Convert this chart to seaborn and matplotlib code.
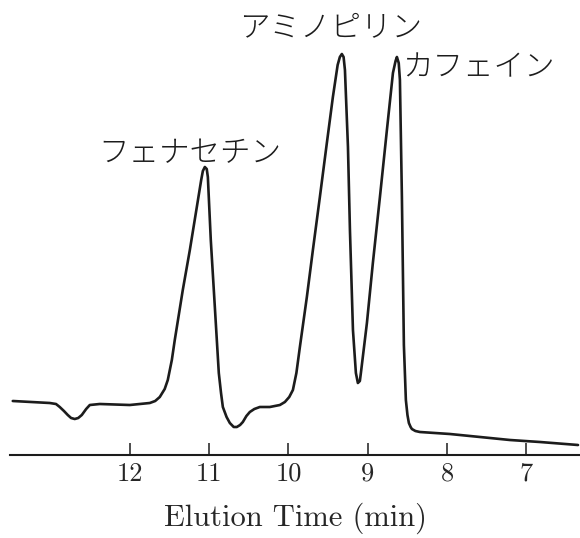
import matplotlib
matplotlib.use("Agg")
import matplotlib.pyplot as plt
import seaborn as sns
import pandas as pd

# chromatogram (time in min, detector response in a.u.)
elution_time = [13.475, 13.009, 12.93, 12.883, 12.83, 12.782, 12.74, 12.694, 12.65,
                12.605, 12.55, 12.504, 12.378, 12.0, 11.748, 11.68, 11.622, 11.56,
                11.521, 11.47, 11.433, 11.332, 11.243, 11.155, 11.10, 11.079, 11.054,
                11.03, 11.016, 10.979, 10.928, 10.878, 10.85, 10.827, 10.78, 10.739,
                10.69, 10.651, 10.61, 10.575, 10.53, 10.487, 10.43, 10.361, 10.235,
                10.108, 10.045, 9.99, 9.944, 9.90, 9.856, 9.768, 9.692, 9.604, 9.516,
                9.440, 9.38, 9.352, 9.327, 9.305, 9.288, 9.250, 9.225, 9.187, 9.150,
                9.125, 9.10, 9.087, 9.011, 8.936, 8.847, 8.759, 8.683, 8.65, 8.633,
                8.61, 8.595, 8.570, 8.545, 8.52, 8.50, 8.482, 8.46, 8.444, 8.40,
                8.343, 7.965, 7.586, 7.208, 6.830, 6.350]
response = [54, 52, 51, 48, 44, 40, 37, 36, 37,
            40, 46, 50, 51, 50, 52, 54, 58, 66,
            75, 95, 115, 165, 205, 248, 275, 284, 288,
            286, 278, 215, 148, 82, 62, 48, 38, 32,
            28, 28, 30, 33, 39, 43, 46, 48, 48,
            50, 53, 58, 65, 82, 108, 158, 205, 258, 312,
            358, 390, 398, 401, 398, 385, 308, 225, 125, 82,
            72, 74, 82, 132, 192, 258, 325, 382, 394, 398,
            392, 375, 258, 110, 55, 40, 32, 28, 26, 24,
            23, 21, 18, 15, 13, 10]

peak_names = ["フェナセチン", "アミノピリン", "カフェイン"]
peak_label_time = [11.24, 9.47, 7.60]
peak_label_resp = [302, 428, 388]

ticks = [12, 11, 10, 9, 8, 7]

df = pd.DataFrame({"time": elution_time, "resp": response})

sns.set_style("white")
plt.rcParams["font.family"] = ["cmr10", "DejaVu Serif"]

fig = plt.figure(figsize=(5.8, 5.38), dpi=100)
ax = fig.add_axes([10 / 580, 83 / 538, 570 / 580, 455 / 538])

sns.lineplot(data=df, x="time", y="resp", sort=False, estimator=None,
             color="#1c1c1c", lw=1.9, ax=ax)
ax.lines[0].set_solid_joinstyle("round")

ax.set_xlim(13.51, 6.325)
ax.set_ylim(0, 455)

for sp in ["left", "right", "top"]:
    ax.spines[sp].set_visible(False)
ax.spines["bottom"].set_linewidth(1.5)
ax.spines["bottom"].set_color("#1c1c1c")

ax.set_xticks(ticks)
ax.set_xticklabels([str(t) for t in ticks])
ax.set_yticks([])
ax.tick_params(axis="x", direction="in", length=9, width=1.1, color="#1c1c1c",
               labelsize=19, pad=5, bottom=True)
ax.set_xlabel("Elution Time (min)", fontsize=22, labelpad=12)
ax.set_ylabel("")

for name, t, r in zip(peak_names, peak_label_time, peak_label_resp):
    ax.text(t, r, name, ha="center", va="center", fontsize=22,
            family=["Noto Sans CJK JP", "DejaVu Sans"], fontweight="light",
            color="#1c1c1c")

fig.savefig("out.png", dpi=100)
